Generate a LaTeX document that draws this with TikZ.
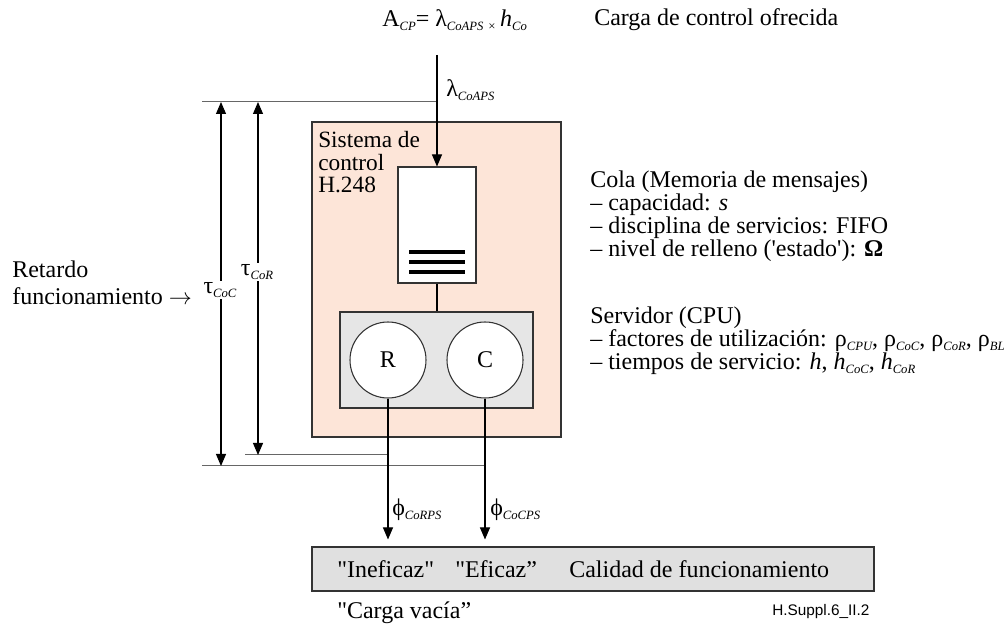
\documentclass[tikz,border=0pt]{standalone}
\usepackage{fontspec}
\setmainfont{Liberation Serif}
\newfontfamily\labelfont{Liberation Sans}
\usetikzlibrary{shapes, arrows.meta, positioning}
\definecolor{syspeach}{RGB}{253,229,216}
\definecolor{srvgray}{RGB}{230,230,230}
\definecolor{qosgray}{RGB}{224,224,224}
\newcommand{\sub}[1]{\raisebox{-3pt}{\fontsize{9.5}{10}\itshape #1}}
\tikzstyle{block} = [rectangle, draw=black!80, line width=0.8pt, inner sep=0pt]
\tikzstyle{proc} = [circle, draw=black!80, fill=white, line width=0.8pt, minimum size=57pt, inner sep=0pt, font=\fontsize{18}{17.25}\selectfont]
\tikzstyle{arrow} = [-{Triangle[width=7.5pt,length=9pt]}, line width=0.8pt]
\tikzstyle{dim} = [{Triangle[width=7.5pt,length=9pt]}-{Triangle[width=7.5pt,length=9pt]}, line width=0.8pt]
\tikzstyle{txt} = [anchor=west, inner sep=0pt, align=left, font=\fontsize{18}{17.25}\selectfont]
\tikzstyle{guide} = [draw=black!60, line width=0.75pt]

\begin{document}
\begin{tikzpicture}[x=0.75pt, y=-0.75pt]
    \useasboundingbox (0,0) rectangle (1004,634);

    \node (sys) [block, fill=syspeach, minimum width=186.75pt, minimum height=236.25pt] at (436.5,279.5) {};
    \node (syslabel) [txt, anchor=north west, font=\fontsize{17.5}{17}\selectfont] at (318,131) {Sistema de\\control\\H.248};
    \node (queue) [block, fill=white, minimum width=58.5pt, minimum height=87pt] at (437,225) {};
    \foreach \y in {252,262,272}
        \draw [line width=3pt] (409,\y) -- (465,\y);
    \node (server) [block, fill=srvgray, minimum width=144.75pt, minimum height=72pt] at (436.5,360) {};
    \node (procR) [proc] at (388,360) {R};
    \node (procC) [proc] at (485,360) {C};
    \draw [line width=0.8pt] (queue.south) -- (queue.south |- server.north);

    \node (quality) [block, fill=qosgray, minimum width=421.5pt, minimum height=33pt] at (593,569) {};

    \coordinate (in) at (437,55);
    \coordinate (topL) at (202,102);
    \coordinate (rL) at (245,455);
    \coordinate (cL) at (202,466);
    \draw [guide] (topL) -- (in |- topL);
    \draw [guide] (rL) -- (procR.south |- rL);
    \draw [guide] (cL) -- (procC.south |- cL);
    \draw [arrow] (in) -- (queue.north);
    \draw [arrow, shorten >=5.25pt] (procR.south) -- (procR.south |- quality.north);
    \draw [arrow, shorten >=5.25pt] (procC.south) -- (procC.south |- quality.north);

    \coordinate (tauCtop) at (221,102);
    \coordinate (tauCbot) at (221,466);
    \coordinate (tauRtop) at (258,102);
    \coordinate (tauRbot) at (258,455);
    \draw [dim] (tauCtop) -- (tauCbot);
    \draw [dim] (tauRtop) -- (tauRbot);
    \node (tauC) [fill=white, inner sep=1pt, font=\fontsize{18}{17.25}\selectfont] at (220,290) {τ\sub{CoC}};
    \node (tauR) [fill=white, inner sep=1pt, font=\fontsize{18}{17.25}\selectfont] at (257,272) {τ\sub{CoR}};
    \node (delay) [txt, font=\fontsize{18}{20}\selectfont] at (12,283) {Retardo\\funcionamiento $\rightarrow$};

    \node (load) [txt] at (382,20) {A\sub{CP}= λ\sub{CoAPS}\,\sub{×}\,\textit{h}\sub{Co}};
    \node (loadtxt) [txt] at (594,20) {Carga de control ofrecida};
    \node (lamin) [txt] at (446,90) {λ\sub{CoAPS}};
    \node (phiR) [txt] at (392,510) {ϕ\sub{CoRPS}};
    \node (phiC) [txt] at (490,510) {ϕ\sub{CoCPS}};

    \node (queuetxt) [txt] at (590,216) {Cola (Memoria de mensajes)\\– capacidad: \textit{s}\\– disciplina de servicios: FIFO\\– nivel de relleno (\textquotesingle estado\textquotesingle): \textbf{Ω}};
    \node (servertxt) [txt] at (590,341) {Servidor (CPU)\\– factores de utilización: ρ\sub{CPU}, ρ\sub{CoC}, ρ\sub{CoR}, ρ\sub{BL}\\– tiempos de servicio: \textit{h}, \textit{h}\sub{CoC}, \textit{h}\sub{CoR}};

    \node (ineff) [txt] at (337,569) {\textquotedbl Ineficaz\textquotedbl};
    \node (eff) [txt] at (455,569) {\textquotedbl Eficaz”};
    \node (qos) [txt] at (569,569) {Calidad de funcionamiento};
    \node (empty) [txt] at (337,613) {\textquotedbl Carga vacía”};
    \node (figid) [anchor=west, inner sep=0pt, font=\labelfont\fontsize{11.5}{12}\selectfont] at (772,612) {H.Suppl.6\_II.2};
\end{tikzpicture}
\end{document}
